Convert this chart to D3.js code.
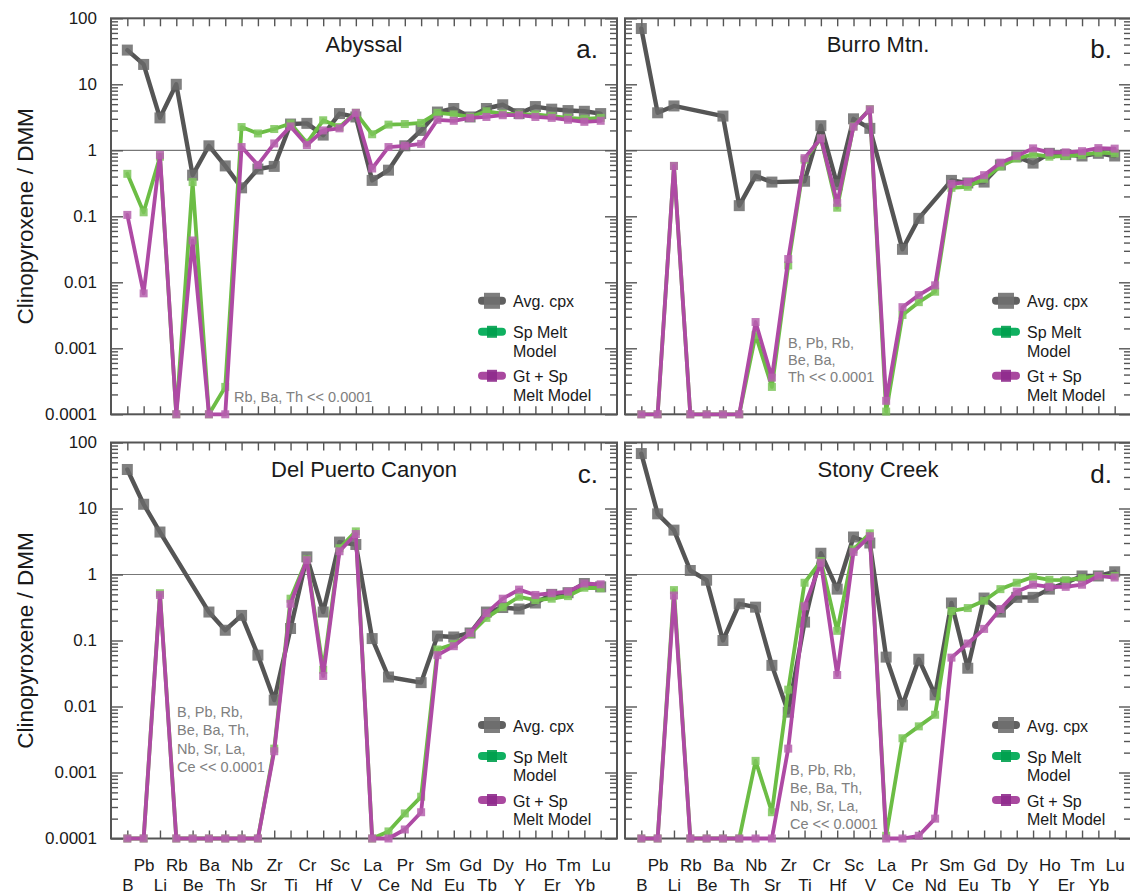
<!DOCTYPE html>
<html>
<head>
<meta charset="utf-8">
<script src="https://cdn.jsdelivr.net/npm/d3@7"></script>
<style>
  html, body { margin: 0; padding: 0; background: #fff; }
  svg { display: block; font-family: "Liberation Sans", Arial, Helvetica, sans-serif; }
</style>
</head>
<body>
<svg id="chart" width="1130" height="896"></svg>
<script>
// Element order along the x axis
const elements = ["B","Pb","Li","Rb","Be","Ba","Th","Nb","Sr","Zr","Ti","Cr","Hf","Sc","V",
                  "La","Ce","Pr","Nd","Sm","Eu","Gd","Tb","Dy","Y","Ho","Er","Tm","Yb","Lu"];

// Log-axis tick labels
const yTickValues = [100, 10, 1, 0.1, 0.01, 0.001, 0.0001];
const yTickLabels = ["100", "10", "1", "0.1", "0.01", "0.001", "0.0001"];

const seriesNames = ["Avg. cpx", "Sp Melt\nModel", "Gt + Sp\nMelt Model"];

// Clinopyroxene / DMM, null = not measured
const abyssalCpx  = [33, 20, 3.1, 10, 0.42, 1.17, 0.58, 0.27, 0.52, 0.57, 2.5, 2.56, 1.7, 3.6, 3.2,
                     0.35, 0.5, 1.17, 2.0, 3.8, 4.3, 3.2, 4.3, 4.9, 3.6, 4.6, 4.2, 4.0, 3.9, 3.6];
const abyssalSp   = [0.44, 0.115, 0.8, 0.0001, 0.33, 0.0001, 0.00026, 2.25, 1.8, 2.1, 2.55, 1.3, 2.85, 2.25, 3.7,
                     1.75, 2.45, 2.5, 2.6, 3.7, 3.5, 3.2, 3.9, 3.6, 3.5, 3.5, 3.3, 3.1, 3.0, 3.1];
const abyssalGtSp = [0.105, 0.0068, 0.85, 0.0001, 0.043, 0.0001, 0.0001, 1.12, 0.6, 1.27, 2.3, 1.2, 2.0, 2.15, 3.7,
                     0.53, 1.12, 1.17, 1.25, 2.9, 2.8, 3.1, 3.2, 3.4, 3.4, 3.2, 3.1, 2.9, 2.7, 2.8];

const burroCpx  = [70, 3.7, 4.7, null, null, 3.3, 0.145, 0.41, 0.33, null, 0.34, 2.36, 0.3, 3.0, 2.15,
                   null, 0.0316, 0.093, null, 0.35, 0.32, 0.33, 0.6, 0.8, 0.64, 0.9, 0.86, 0.82, 0.9, 0.82];
const burroSp   = [0.0001, 0.0001, 0.58, 0.0001, 0.0001, 0.0001, 0.0001, 0.0016, 0.00026, 0.018, 0.72, 1.5, 0.135, 2.3, 4.2,
                   0.00011, 0.0032, 0.005, 0.0072, 0.27, 0.28, 0.37, 0.57, 0.75, 0.87, 0.8, 0.82, 0.85, 0.92, 0.9];
const burroGtSp = [0.0001, 0.0001, 0.58, 0.0001, 0.0001, 0.0001, 0.0001, 0.0025, 0.00036, 0.0225, 0.76, 1.52, 0.16, 2.28, 4.17,
                   0.00016, 0.0042, 0.0064, 0.009, 0.31, 0.33, 0.42, 0.65, 0.82, 1.07, 0.93, 0.93, 0.97, 1.08, 1.06];

const delPuertoCpx  = [39, 11.6, 4.4, null, null, 0.27, 0.143, 0.24, 0.06, 0.0125, 0.152, 1.85, 0.27, 3.1, 2.85,
                       0.107, 0.028, null, 0.023, 0.117, 0.113, 0.13, 0.27, 0.316, 0.3, 0.37, 0.5, 0.53, 0.73, 0.65];
const delPuertoSp   = [0.0001, 0.0001, 0.52, 0.0001, 0.0001, 0.0001, 0.0001, 0.0001, 0.0001, 0.0023, 0.43, 1.7, 0.036, 2.5, 4.5,
                       0.0001, 0.000128, 0.00024, 0.00043, 0.073, 0.088, 0.125, 0.22, 0.32, 0.46, 0.41, 0.43, 0.47, 0.63, 0.62];
const delPuertoGtSp = [0.0001, 0.0001, 0.49, 0.0001, 0.0001, 0.0001, 0.0001, 0.0001, 0.0001, 0.0021, 0.36, 1.65, 0.029, 2.25, 4.1,
                       0.0001, 0.0001, 0.000137, 0.00025, 0.06, 0.082, 0.13, 0.26, 0.43, 0.59, 0.49, 0.52, 0.55, 0.73, 0.71];

const stonyCpx  = [68, 8.3, 4.7, 1.15, 0.82, 0.1, 0.36, 0.32, 0.042, 0.0082, 0.19, 2.1, 0.6, 3.7, 3.0,
                   0.056, 0.0105, 0.052, 0.015, 0.37, 0.038, 0.44, 0.27, 0.45, 0.45, 0.6, 0.75, 0.95, 0.95, 1.1];
const stonySp   = [0.0001, 0.0001, 0.58, 0.0001, 0.0001, 0.0001, 0.0001, 0.0015, 0.00025, 0.018, 0.75, 1.6, 0.14, 2.4, 4.2,
                   0.00011, 0.0033, 0.005, 0.0075, 0.28, 0.31, 0.4, 0.6, 0.75, 0.92, 0.83, 0.82, 0.88, 0.95, 0.95];
const stonyGtSp = [0.0001, 0.0001, 0.48, 0.0001, 0.0001, 0.0001, 0.0001, 0.0001, 0.0001, 0.0023, 0.33, 1.5, 0.03, 2.2, 3.8,
                   0.0001, 0.0001, 0.00011, 0.0002, 0.055, 0.09, 0.15, 0.3, 0.55, 0.7, 0.65, 0.65, 0.7, 0.95, 0.9];

const panelTitles = ["Abyssal", "Burro Mtn.", "Del Puerto Canyon", "Stony Creek"];
const panelLetters = ["a.", "b.", "c.", "d."];
const panelNotes = [
  ["Rb, Ba, Th << 0.0001"],
  ["B, Pb, Rb,", "Be, Ba,", "Th << 0.0001"],
  ["B, Pb, Rb,", "Be, Ba, Th,", "Nb, Sr, La,", "Ce << 0.0001"],
  ["B, Pb, Rb,", "Be, Ba, Th,", "Nb, Sr, La,", "Ce << 0.0001"]
];
const panelSeries = [
  [abyssalCpx, abyssalSp, abyssalGtSp],
  [burroCpx, burroSp, burroGtSp],
  [delPuertoCpx, delPuertoSp, delPuertoGtSp],
  [stonyCpx, stonySp, stonyGtSp]
];

// ---- layout & style ----
const PW = 506, PH = 396;
const origins = [[111, 18.3], [625, 18.3], [111, 442.5], [625, 442.5]];
const notePos = [[234, 401.7, 17], [788, 347.7, 17], [177, 717.3, 18.1], [790, 775, 18.1]];
const axisColor = "#555";
const styles = [
  { line: "#555555", mark: "#6a6a6a", size: 11, lw: 4.4, legLine: "#606060", legMark: "#707070" },
  { line: "#6cbd45", mark: "#7cc55a", size: 8,  lw: 3.8, legLine: "#0fb060", legMark: "#00a04e" },
  { line: "#ae4aa4", mark: "#b562ad", size: 8,  lw: 3.8, legLine: "#a9489f", legMark: "#8e2a8c" }
];

const svg = d3.select("#chart");

const x = d3.scalePoint().domain(elements).range([0, PW]).padding(1);
const y = d3.scaleLog().domain([1e-4, 100]).range([PH, 0]);

const minorTicks = [];
for (let e = -4; e < 2; e++) for (let m = 2; m <= 9; m++) minorTicks.push(m * Math.pow(10, e));

function styleAxis(g) {
  g.select(".domain").remove();
  g.selectAll(".tick line").attr("stroke", axisColor).attr("stroke-width", 1.4);
}

panelSeries.forEach((series, pi) => {
  const [ox, oy] = origins[pi];
  const g = svg.append("g").attr("transform", `translate(${ox},${oy})`);
  const leftCol = pi % 2 === 0;
  const bottomRow = pi >= 2;

  // unity reference line
  g.append("line")
    .attr("x1", 0).attr("x2", PW)
    .attr("y1", y(1)).attr("y2", y(1))
    .attr("stroke", "#777").attr("stroke-width", 1.2);

  // left edge ticks (inward)
  g.append("g")
    .call(d3.axisLeft(y).tickValues(minorTicks).tickFormat("").tickSizeInner(-7).tickSizeOuter(0))
    .call(styleAxis);
  const major = g.append("g")
    .call(d3.axisLeft(y).tickValues(yTickValues)
      .tickFormat((d, i) => leftCol ? yTickLabels[i] : "")
      .tickSizeInner(-12).tickSizeOuter(0).tickPadding(14))
    .call(styleAxis);
  major.selectAll("text").attr("font-size", 17).attr("fill", "#1a1a1a")
    .attr("font-family", "'Liberation Sans', Arial, sans-serif");

  // right edge ticks (inward)
  g.append("g").attr("transform", `translate(${PW},0)`)
    .call(d3.axisRight(y).tickValues(minorTicks).tickFormat("").tickSizeInner(-7).tickSizeOuter(0))
    .call(styleAxis);
  g.append("g").attr("transform", `translate(${PW},0)`)
    .call(d3.axisRight(y).tickValues(yTickValues).tickFormat("").tickSizeInner(-12).tickSizeOuter(0))
    .call(styleAxis);

  // top and bottom ticks (inward)
  g.append("g")
    .call(d3.axisBottom(x).tickFormat("").tickSizeInner(8).tickSizeOuter(0))
    .call(styleAxis);
  g.append("g").attr("transform", `translate(0,${PH})`)
    .call(d3.axisTop(x).tickFormat("").tickSizeInner(8).tickSizeOuter(0))
    .call(styleAxis);

  // element labels in two staggered rows
  if (bottomRow) {
    const upper = elements.filter((d, i) => i % 2 === 1);
    const lower = elements.filter((d, i) => i % 2 === 0);
    [[upper, 20.5], [lower, 40.3]].forEach(([vals, pad]) => {
      const ax = g.append("g").attr("transform", `translate(0,${PH})`)
        .call(d3.axisBottom(x).tickValues(vals).tickSizeInner(-0.001).tickSizeOuter(0).tickPadding(pad))
        .call(styleAxis);
      ax.selectAll(".tick line").remove();
      ax.selectAll("text").attr("font-size", 17).attr("fill", "#1a1a1a")
        .attr("font-family", "'Liberation Sans', Arial, sans-serif");
    });
  }

  // frame
  g.append("rect").attr("x", 0).attr("y", 0).attr("width", PW).attr("height", PH)
    .attr("fill", "none").attr("stroke", axisColor).attr("stroke-width", 2);

  // data series
  const line = d3.line().x(d => x(d.el)).y(d => y(d.v));
  series.forEach((vals, si) => {
    const st = styles[si];
    const pts = vals.map((v, i) => ({ el: elements[i], v })).filter(d => d.v != null);
    g.append("path").datum(pts).attr("d", line)
      .attr("fill", "none").attr("stroke", st.line).attr("stroke-width", st.lw)
      .attr("stroke-linejoin", "round").attr("stroke-linecap", "round");
    g.append("g").selectAll("rect").data(pts).join("rect")
      .attr("x", d => x(d.el) - st.size / 2).attr("y", d => y(d.v) - st.size / 2)
      .attr("width", st.size).attr("height", st.size)
      .attr("fill", st.mark).attr("fill-opacity", 0.85);
  });

  // titles
  g.append("text").attr("x", PW / 2).attr("y", 34).attr("text-anchor", "middle")
    .attr("font-size", 22).attr("fill", "#1a1a1a").text(panelTitles[pi]);
  g.append("text").attr("x", PW - 19).attr("y", 40).attr("text-anchor", "end")
    .attr("font-size", 26).attr("fill", "#1a1a1a").text(panelLetters[pi]);

  // note about values below the axis
  const [nx, ny, nlh] = notePos[pi];
  const note = g.append("text").attr("font-size", 14.5).attr("fill", "#808080");
  panelNotes[pi].forEach((t, k) => {
    note.append("tspan").attr("x", nx - ox).attr("y", ny - oy + k * nlh).text(t);
  });

  // legend
  const legX = PW - 125, legTextX = PW - 104;
  const legRows = [282.5, 313.5, 357.5];
  seriesNames.forEach((name, si) => {
    const st = styles[si];
    const ly = legRows[si];
    g.append("line").attr("x1", legX - 10).attr("x2", legX + 10).attr("y1", ly).attr("y2", ly)
      .attr("stroke", st.legLine).attr("stroke-width", 8).attr("stroke-linecap", "round");
    const ms = si === 0 ? 16 : 10;
    const mh = si === 0 ? 16 : 12;
    g.append("rect").attr("x", legX - ms / 2).attr("y", ly - mh / 2).attr("width", ms).attr("height", mh)
      .attr("fill", st.legMark).attr("fill-opacity", 0.9);
    const t = g.append("text").attr("font-size", 16).attr("fill", "#1a1a1a");
    name.split("\n").forEach((s, k) => {
      t.append("tspan").attr("x", legTextX).attr("y", ly + 6.5 + k * 18.7).text(s);
    });
  });
});

// shared y-axis titles
[[216.3], [640.5]].forEach(([cy]) => {
  svg.append("text")
    .attr("transform", `translate(32.5,${cy}) rotate(-90)`)
    .attr("text-anchor", "middle").attr("font-size", 22.5).attr("fill", "#1a1a1a")
    .text("Clinopyroxene / DMM");
});
</script>
</body>
</html>
